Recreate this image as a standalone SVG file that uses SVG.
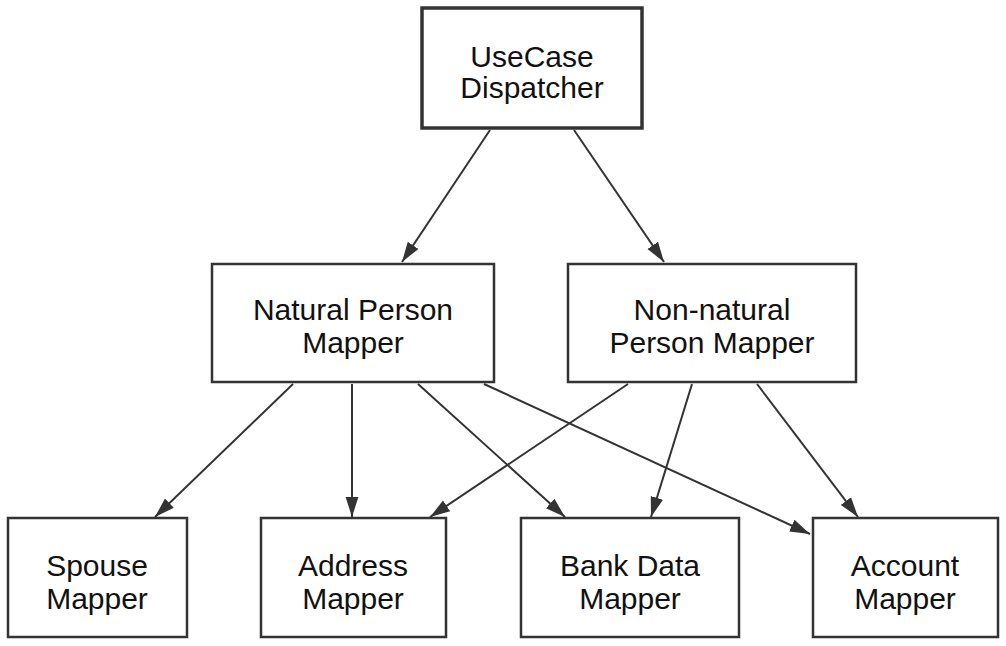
<svg xmlns="http://www.w3.org/2000/svg" width="1006" height="646" viewBox="0 0 1006 646">
<style>
.n{fill:#fff;stroke:#333;stroke-width:2.5}
text{font-family:"Liberation Sans",Arial,sans-serif;font-size:30px;fill:#111;text-anchor:middle}
.e{stroke:#333;stroke-width:2;fill:none;marker-end:url(#b)}
</style>
<defs><marker id="b" viewBox="0 0 10 10" refX="10" refY="5" markerWidth="20" markerHeight="20" markerUnits="userSpaceOnUse" orient="auto"><path d="M0,1.8L10,5L0,8.2z" fill="#333"/></marker></defs>
<rect width="1006" height="646" fill="#fff"/>
<g id="edges">
<path class="e" d="M490,130L402,262"/>
<path class="e" d="M574,130L664,262"/>
<path class="e" d="M293,384L155,517"/>
<path class="e" d="M352,384L352,517"/>
<path class="e" d="M418,384L565,517"/>
<path class="e" d="M484,384L810,534"/>
<path class="e" d="M628,384L430,517"/>
<path class="e" d="M692,384L651,517"/>
<path class="e" d="M757,384L858,517"/>
</g>
<g id="dispatcher"><rect class="n" x="422" y="8" width="220" height="120" style="stroke-width:3.5"/><text x="532" y="67">UseCase</text><text x="532" y="98">Dispatcher</text></g>
<g id="natural"><rect class="n" x="212" y="264" width="282" height="118"/><text x="353" y="320">Natural Person</text><text x="353" y="353">Mapper</text></g>
<g id="nonnatural"><rect class="n" x="568" y="264" width="288" height="118"/><text x="712" y="320">Non-natural</text><text x="712" y="353">Person Mapper</text></g>
<g id="spouse"><rect class="n" x="8" y="518" width="179" height="119"/><text x="97" y="576">Spouse</text><text x="97" y="609">Mapper</text></g>
<g id="address"><rect class="n" x="261" y="518" width="185" height="119"/><text x="353" y="576">Address</text><text x="353" y="609">Mapper</text></g>
<g id="bank"><rect class="n" x="521" y="518" width="218" height="119"/><text x="630" y="576">Bank Data</text><text x="630" y="609">Mapper</text></g>
<g id="account"><rect class="n" x="813" y="518" width="185" height="119"/><text x="905" y="576">Account</text><text x="905" y="609">Mapper</text></g>
</svg>
